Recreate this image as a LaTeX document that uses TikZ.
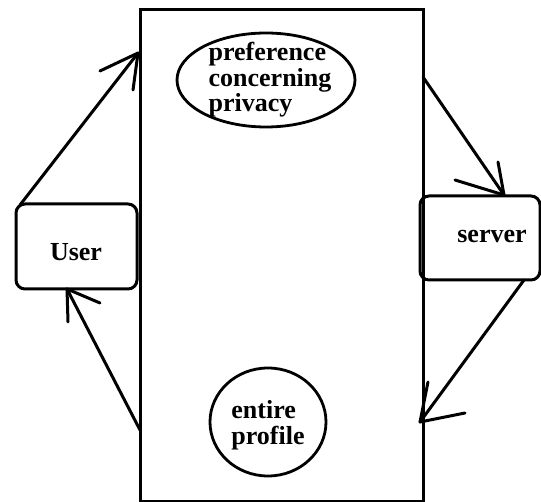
\documentclass[tikz,border=0pt]{standalone}
\usepackage{fontspec}
\setmainfont{Liberation Serif}
\usetikzlibrary{shapes.geometric}
\begin{document}
\begin{tikzpicture}[x=1pt,y=-1pt,
  box/.style={draw,line width=3pt,inner sep=0pt},
  rbox/.style={box,rounded corners=9pt},
  oval/.style={draw,ellipse,line width=2.8pt,inner sep=0pt},
  lbl/.style={font=\bfseries\fontsize{26}{25.5}\selectfont,inner sep=0pt,align=left},
  conn/.style={line width=3pt,line cap=round,line join=round}]
\useasboundingbox (0,0) rectangle (541,502);
\node[box,minimum width=283pt,minimum height=492pt] (main) at (281.5,255.5) {};
\node[rbox,minimum width=121pt,minimum height=85pt] (user) at (76.5,246.5) {};
\node[lbl] (usertxt) at (76,252) {User};
\node[rbox,minimum width=120pt,minimum height=84pt] (server) at (480,238) {};
\node[lbl] (servertxt) at (492,236) {server};
\node[oval,minimum width=178pt,minimum height=94pt] (pref) at (266,80) {};
\node[lbl] (preftxt) at (270,80) {preference\\concerning\\privacy};
\node[oval,minimum width=116pt,minimum height=108pt] (prof) at (268,422) {};
\node[lbl] (proftxt) at (268,425) {entire\\profile};
% connector end points
\coordinate (s1) at (20,205);  \coordinate (t1) at (138,53);
\coordinate (s2) at (423,77);  \coordinate (t2) at (504,195);
\coordinate (s3) at (524,280); \coordinate (t3) at (420,422);
\coordinate (s4) at (140,430); \coordinate (t4) at (67,289);
\draw[conn] (s1) -- (t1); \draw[conn] (t1) -- ++(-38,18); \draw[conn] (t1) -- ++(-5,37);
\draw[conn] (s2) -- (t2); \draw[conn] (t2) -- ++(-49,-15); \draw[conn] (t2) -- ++(-6,-33);
\draw[conn] (s3) -- (t3); \draw[conn] (t3) -- ++(8,-40); \draw[conn] (t3) -- ++(45,-9);
\draw[conn] (s4) -- (t4); \draw[conn] (t4) -- ++(1,33); \draw[conn] (t4) -- ++(33,14);
\end{tikzpicture}
\end{document}
